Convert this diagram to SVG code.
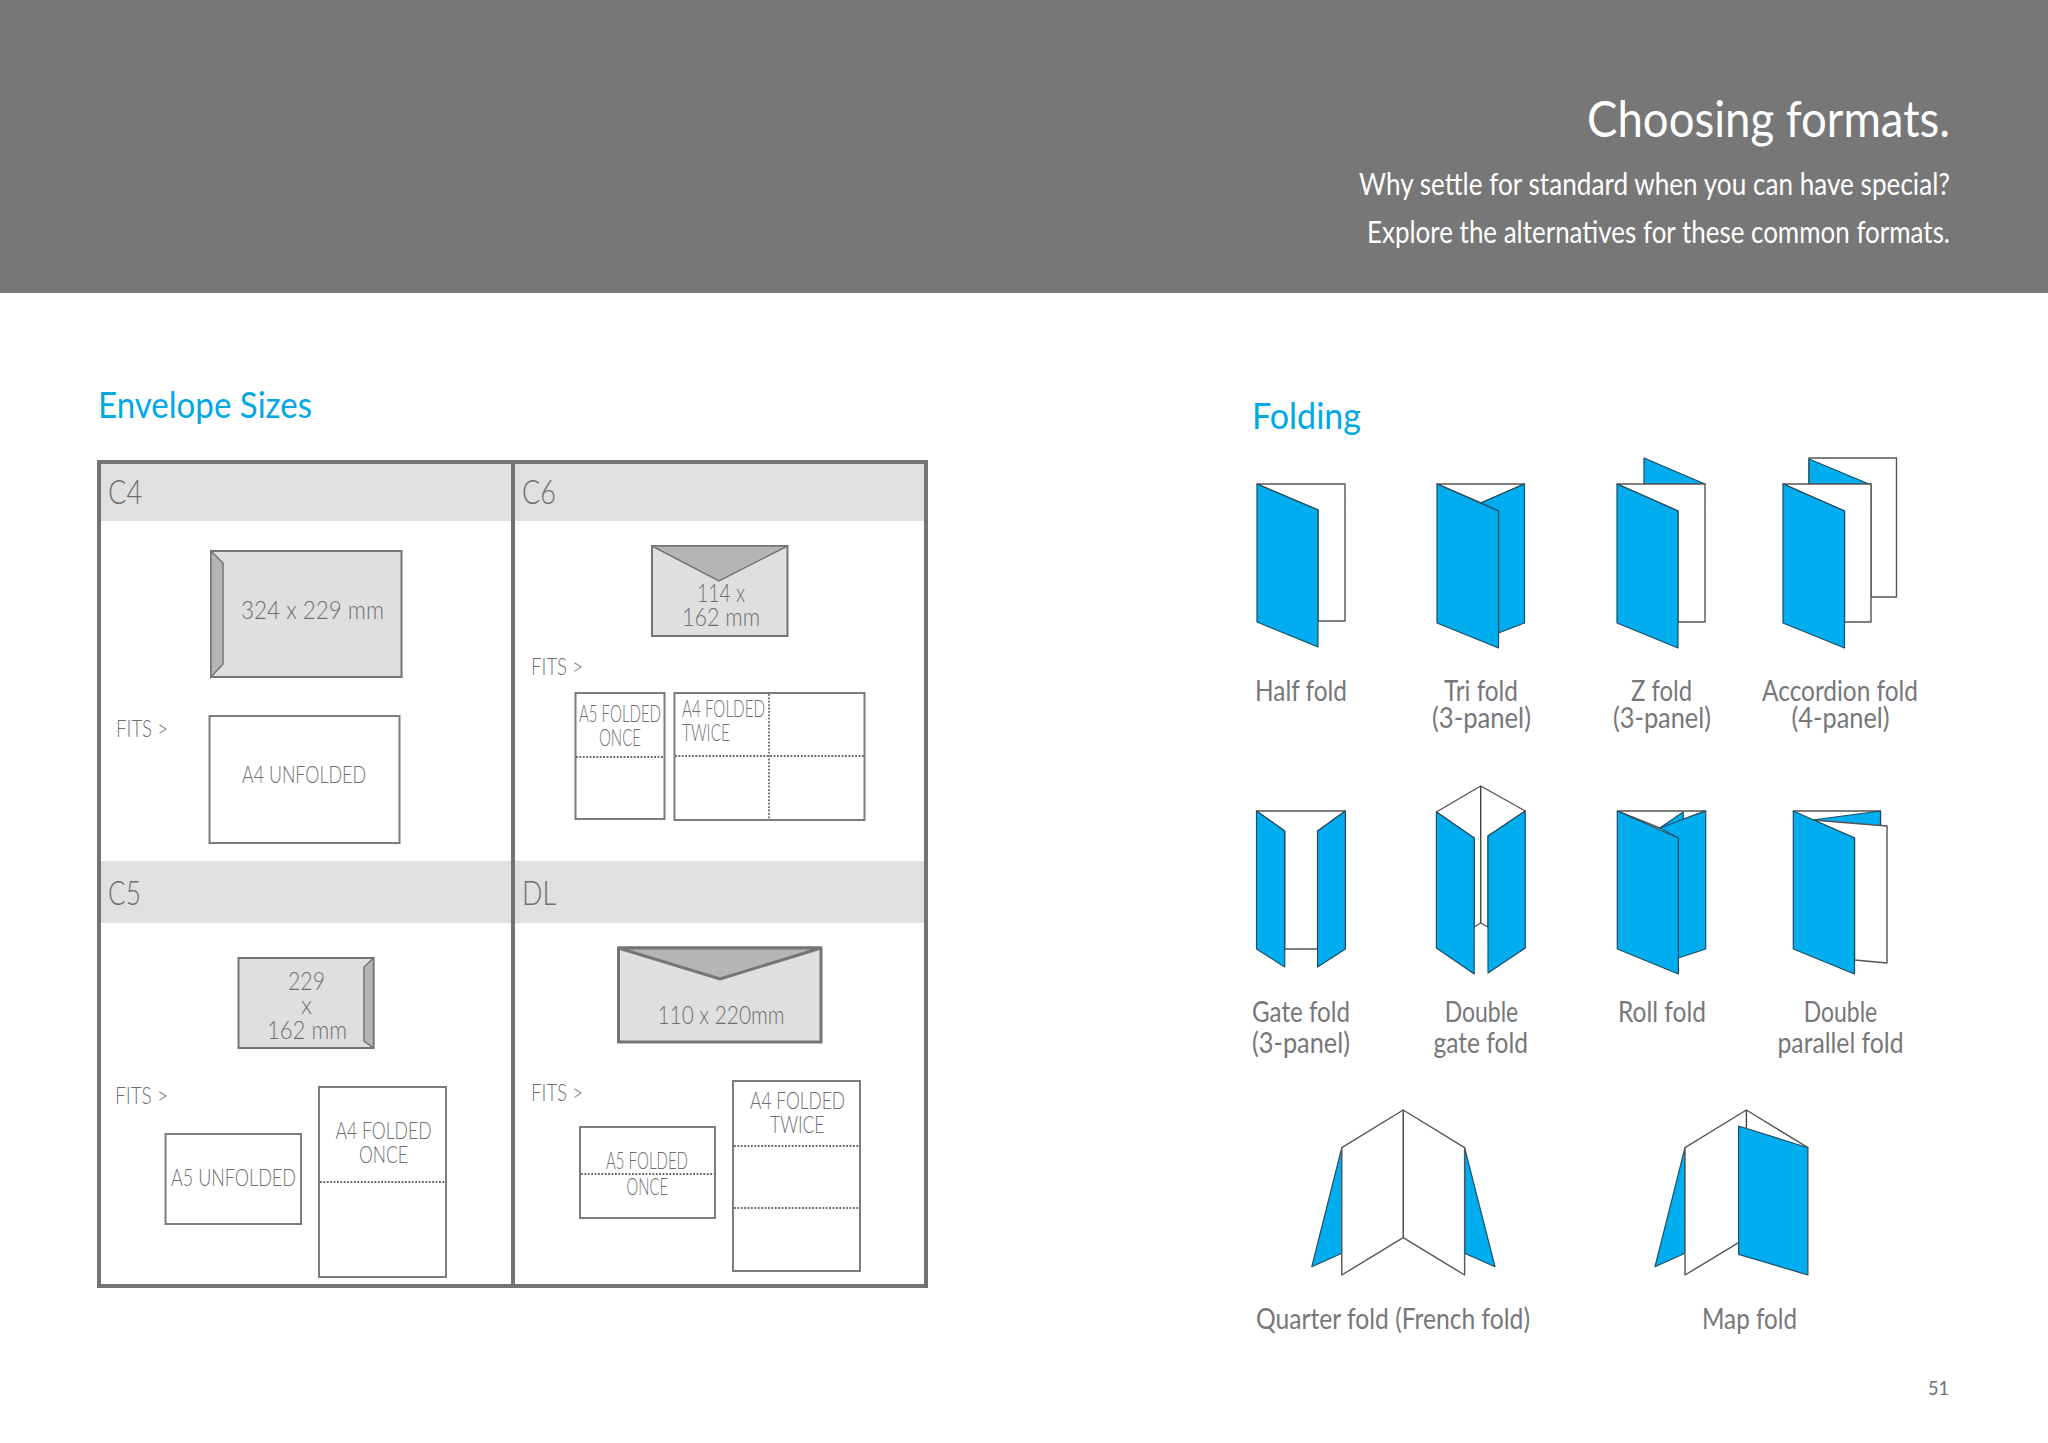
<svg xmlns="http://www.w3.org/2000/svg" width="2048" height="1443" viewBox="0 0 2048 1443">
<style>
text{font-family:"Lato","Open Sans","Liberation Sans",sans-serif;font-weight:300;fill:#6e6e71}
.h{fill:#fff;font-weight:400}
.t{font-size:50px}.s{font-size:31px}
.sec{fill:#00a8e4;font-size:37px;font-weight:400}
.band{fill:#e0e0e0}
.cell{font-size:34px}
.d{font-size:25px}.m{font-size:24px}.f{font-size:28px;font-weight:400;fill:#77777a}
.env{fill:#dfdfdf;stroke:#757575;stroke-width:2}
.flap{fill:#b5b5b5;stroke:#757575;stroke-width:1.5}
.sheet{fill:#fff;stroke:#7c7c7c;stroke-width:2}
.dot{fill:none;stroke:#666;stroke-width:1.8;stroke-dasharray:1.8 1.6}
.b{fill:#00adee;stroke:#1f4d63;stroke-width:1.2;stroke-linejoin:round}
.w{fill:#fff;stroke:#555;stroke-width:1.4;stroke-linejoin:round}
.l{fill:none;stroke:#444;stroke-width:1.4}
</style>
<rect width="2048" height="1443" fill="#fff"/>
<g id="header">
<rect width="2048" height="293" fill="#777777"/>
<text class="h t" x="1587" y="137" textLength="363" lengthAdjust="spacingAndGlyphs">Choosing formats.</text>
<text class="h s" x="1359" y="195" textLength="591" lengthAdjust="spacingAndGlyphs">Why settle for standard when you can have special?</text>
<text class="h s" x="1367" y="243" textLength="583" lengthAdjust="spacingAndGlyphs">Explore the alternatives for these common formats.</text>
</g>
<g id="body" transform="translate(0 1)">
<text class="sec" x="98" y="417" textLength="214" lengthAdjust="spacingAndGlyphs">Envelope Sizes</text>
<text class="sec" x="1252" y="428" textLength="109" lengthAdjust="spacingAndGlyphs">Folding</text>
<g id="envelope-table">
<rect class="band" x="99" y="461" width="827" height="59"/>
<rect class="band" x="99" y="860" width="827" height="62"/>
<rect x="99" y="461" width="827" height="824" fill="none" stroke="#737373" stroke-width="4"/>
<line x1="513" y1="461" x2="513" y2="1285" stroke="#737373" stroke-width="4"/>
</g>
<g id="c4">
<text class="cell" x="108" y="503" textLength="34.500" lengthAdjust="spacingAndGlyphs">C4</text>
<rect class="env" x="211" y="550" width="190.500" height="126"/>
<path class="flap" d="M211 550L223 562V663L211 676Z"/>
<text class="d" x="241" y="618" textLength="143" lengthAdjust="spacingAndGlyphs">324 x 229 mm</text>
<text class="m" x="116" y="736" textLength="52" lengthAdjust="spacingAndGlyphs">FITS &gt;</text>
<rect class="sheet" x="209.500" y="715" width="190" height="127"/>
<text class="m" x="242" y="782" textLength="124" lengthAdjust="spacingAndGlyphs">A4 UNFOLDED</text>
</g>
<g id="c6">
<text class="cell" x="522" y="503" textLength="34" lengthAdjust="spacingAndGlyphs">C6</text>
<rect class="env" x="652" y="545" width="135.500" height="90"/>
<path class="flap" d="M652 545H787.500L719 580Z"/>
<text class="d" x="697" y="601" textLength="48" lengthAdjust="spacingAndGlyphs">114 x</text>
<text class="d" x="682" y="625" textLength="78" lengthAdjust="spacingAndGlyphs">162 mm</text>
<text class="m" x="531" y="674" textLength="52" lengthAdjust="spacingAndGlyphs">FITS &gt;</text>
<rect class="sheet" x="575.500" y="692" width="89" height="126"/>
<line class="dot" x1="576" y1="756" x2="664" y2="756"/>
<text class="m" x="579" y="721" textLength="82" lengthAdjust="spacingAndGlyphs">A5 FOLDED</text>
<text class="m" x="599" y="745" textLength="42" lengthAdjust="spacingAndGlyphs">ONCE</text>
<rect class="sheet" x="674.500" y="692" width="190" height="127"/>
<line class="dot" x1="675" y1="755" x2="864" y2="755"/>
<line class="dot" x1="769" y1="693" x2="769" y2="818"/>
<text class="m" x="682" y="716" textLength="83" lengthAdjust="spacingAndGlyphs">A4 FOLDED</text>
<text class="m" x="682" y="740" textLength="48" lengthAdjust="spacingAndGlyphs">TWICE</text>
</g>
<g id="c5">
<text class="cell" x="108" y="904" textLength="33" lengthAdjust="spacingAndGlyphs">C5</text>
<rect class="env" x="238.500" y="957" width="135" height="90"/>
<path class="flap" d="M373.500 957L364 966V1040L373.500 1047Z"/>
<text class="d" x="288" y="989" textLength="37" lengthAdjust="spacingAndGlyphs">229</text>
<text class="d" x="301" y="1013" textLength="11" lengthAdjust="spacingAndGlyphs">x</text>
<text class="d" x="267" y="1038" textLength="80" lengthAdjust="spacingAndGlyphs">162 mm</text>
<text class="m" x="115" y="1103" textLength="53" lengthAdjust="spacingAndGlyphs">FITS &gt;</text>
<rect class="sheet" x="165.500" y="1133" width="135.500" height="90"/>
<text class="m" x="171" y="1185" textLength="125" lengthAdjust="spacingAndGlyphs">A5 UNFOLDED</text>
<rect class="sheet" x="319" y="1086" width="127" height="190"/>
<line class="dot" x1="320" y1="1181" x2="445" y2="1181"/>
<text class="m" x="335.500" y="1138" textLength="96" lengthAdjust="spacingAndGlyphs">A4 FOLDED</text>
<text class="m" x="359" y="1162" textLength="49" lengthAdjust="spacingAndGlyphs">ONCE</text>
</g>
<g id="dl">
<text class="cell" x="522" y="904" textLength="34" lengthAdjust="spacingAndGlyphs">DL</text>
<rect class="env" x="618.500" y="947" width="202.500" height="94" style="stroke-width:3"/>
<path class="flap" d="M618.500 947H821L720 978Z" style="stroke-width:3"/>
<text class="d" x="657.500" y="1023" textLength="127" lengthAdjust="spacingAndGlyphs">110 x 220mm</text>
<text class="m" x="531" y="1100" textLength="52" lengthAdjust="spacingAndGlyphs">FITS &gt;</text>
<rect class="sheet" x="580" y="1126" width="135" height="91"/>
<line class="dot" x1="581" y1="1173" x2="714" y2="1173"/>
<text class="m" x="606" y="1168" textLength="82" lengthAdjust="spacingAndGlyphs">A5 FOLDED</text>
<text class="m" x="626.600" y="1194" textLength="41.400" lengthAdjust="spacingAndGlyphs">ONCE</text>
<rect class="sheet" x="733" y="1080" width="127" height="190"/>
<line class="dot" x1="734" y1="1145" x2="861" y2="1145"/>
<line class="dot" x1="734" y1="1207" x2="859" y2="1207"/>
<text class="m" x="750" y="1108" textLength="95" lengthAdjust="spacingAndGlyphs">A4 FOLDED</text>
<text class="m" x="770" y="1132" textLength="54.500" lengthAdjust="spacingAndGlyphs">TWICE</text>
</g>
<g id="half-fold">
<path class="w" d="M1257 483H1345V620H1318V509Z"/>
<path class="b" d="M1257 483L1318 509V646L1257 621Z"/>
<text class="f" x="1255" y="700" textLength="92" lengthAdjust="spacingAndGlyphs">Half fold</text>
</g>
<g id="tri-fold">
<path class="w" d="M1437 483H1524.500L1481 502Z"/>
<path class="b" d="M1524.500 483L1481 502L1498.500 510V632L1524.500 622Z"/>
<path class="b" d="M1437 483L1498.500 510V647L1437 622Z"/>
<text class="f" x="1444" y="700" textLength="74" lengthAdjust="spacingAndGlyphs">Tri fold</text>
<text class="f" x="1432" y="727" textLength="99" lengthAdjust="spacingAndGlyphs">(3-panel)</text>
</g>
<g id="z-fold">
<path class="b" d="M1644 457L1705 483H1644Z"/>
<path class="w" d="M1617 483H1705V621H1678V510Z"/>
<path class="b" d="M1617 483L1678 510V647L1617 622Z"/>
<text class="f" x="1631" y="700" textLength="61" lengthAdjust="spacingAndGlyphs">Z fold</text>
<text class="f" x="1613" y="727" textLength="98" lengthAdjust="spacingAndGlyphs">(3-panel)</text>
</g>
<g id="accordion-fold">
<path class="w" d="M1809 457H1896.500V596H1871V483H1809Z"/>
<path class="b" d="M1809 458L1869 483H1809Z"/>
<path class="w" d="M1783 483H1871V621H1844.500V510Z"/>
<path class="b" d="M1783 483L1844.500 510V647L1783 622Z"/>
<text class="f" x="1762" y="700" textLength="156" lengthAdjust="spacingAndGlyphs">Accordion fold</text>
<text class="f" x="1791.600" y="727" textLength="98" lengthAdjust="spacingAndGlyphs">(4-panel)</text>
</g>
<g id="gate-fold">
<path class="w" d="M1256.500 810H1345.400L1317.600 830V948H1284.700V830Z"/>
<path class="b" d="M1256.500 810L1284.700 830V966L1256.500 948Z"/>
<path class="b" d="M1345.400 810L1317.600 830V966L1345.400 948Z"/>
<text class="f" x="1252" y="1021" textLength="98" lengthAdjust="spacingAndGlyphs">Gate fold</text>
<text class="f" x="1252" y="1052" textLength="98" lengthAdjust="spacingAndGlyphs">(3-panel)</text>
</g>
<g id="double-gate-fold">
<path class="w" d="M1436.400 811L1480.700 785L1525.300 810L1488 835V926L1480.700 922L1474.200 926V837Z"/>
<line class="l" x1="1480.700" y1="785" x2="1480.700" y2="922"/>
<path class="b" d="M1436.400 811L1474.200 837V973L1436.400 947Z"/>
<path class="b" d="M1525.300 810L1488 835V972L1525.300 947Z"/>
<text class="f" x="1444.700" y="1021" textLength="73.500" lengthAdjust="spacingAndGlyphs">Double</text>
<text class="f" x="1433.500" y="1052" textLength="94.500" lengthAdjust="spacingAndGlyphs">gate fold</text>
</g>
<g id="roll-fold">
<path class="w" d="M1617.300 810H1683.200L1705.700 810L1659.800 827Z"/>
<path class="b" d="M1683.200 811V820L1659.800 827Z"/>
<path class="b" d="M1705.700 810L1659.800 827L1678.400 837V957L1705.700 948Z"/>
<path class="b" d="M1617.300 810L1678.400 837V973L1617.300 948Z"/>
<text class="f" x="1618" y="1021" textLength="88" lengthAdjust="spacingAndGlyphs">Roll fold</text>
</g>
<g id="double-parallel-fold">
<path class="w" d="M1793.300 810H1880.500V825H1812.400Z"/>
<path class="b" d="M1812.400 819L1880.500 810V825Z"/>
<path class="w" d="M1812.400 819L1887 825V962L1854.500 959V837Z"/>
<path class="b" d="M1793.300 810L1854.500 837V973L1793.300 948Z"/>
<text class="f" x="1803.700" y="1021" textLength="73.500" lengthAdjust="spacingAndGlyphs">Double</text>
<text class="f" x="1777.500" y="1052" textLength="126" lengthAdjust="spacingAndGlyphs">parallel fold</text>
</g>
<g id="quarter-fold">
<path class="b" d="M1341.800 1146.700L1311.800 1265.700L1341.800 1252.300Z"/>
<path class="b" d="M1464.600 1146.700L1495 1265.700L1464.600 1252.300Z"/>
<path class="w" d="M1341.800 1146.700L1403.200 1109L1464.600 1146.700V1274L1403.200 1236.700L1341.800 1274Z"/>
<line class="l" x1="1403.200" y1="1109" x2="1403.200" y2="1236.700"/>
<text class="f" x="1256" y="1328" textLength="274" lengthAdjust="spacingAndGlyphs">Quarter fold (French fold)</text>
</g>
<g id="map-fold">
<path class="b" d="M1685 1146.700L1655 1265.700L1685 1252.300Z"/>
<path class="w" d="M1685 1146.700L1746.400 1109L1807.900 1146.700L1738.600 1241.700L1685 1274Z"/>
<line class="l" x1="1746.400" y1="1109" x2="1746.400" y2="1127"/>
<path class="b" d="M1738.600 1125L1807.900 1146.700V1274L1738.600 1253.300Z"/>
<text class="f" x="1702" y="1328" textLength="95" lengthAdjust="spacingAndGlyphs">Map fold</text>
</g>
<text x="1928" y="1394" font-size="20" style="font-weight:400" textLength="21" lengthAdjust="spacingAndGlyphs">51</text>
</g>
</svg>
